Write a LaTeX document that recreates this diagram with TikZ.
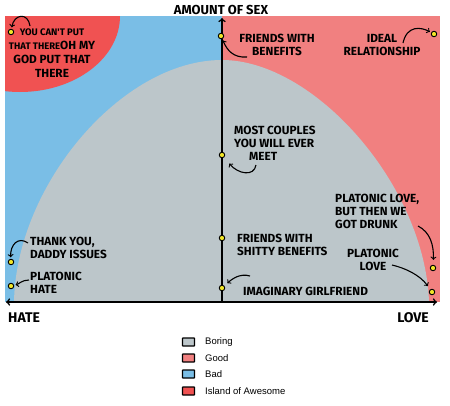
\documentclass[tikz,border=0pt]{standalone}
\usepackage{fontspec}
\setmainfont{Liberation Sans}
\newfontfamily\handfont{Fira Sans}
\definecolor{boring}{RGB}{188,198,202}
\definecolor{good}{RGB}{241,128,128}
\definecolor{bad}{RGB}{122,190,230}
\definecolor{awesome}{RGB}{240,82,82}
\definecolor{dotyellow}{RGB}{242,230,40}

\begin{document}
\begin{tikzpicture}[x=1pt,y=-1pt,
  dot/.style={circle,draw=black,fill=dotyellow,line width=0.9pt,inner sep=0pt,minimum size=5.5pt},
  hand/.style={font=\handfont\bfseries\fontsize{11.8}{13}\selectfont,inner sep=0pt},
  axislabel/.style={hand,font=\handfont\bfseries\fontsize{14}{16}\selectfont},
  pointer/.style={->,line width=1.1pt,shorten >=1.5pt},
  axis/.style={line width=1.6pt},
  legbox/.style={draw=black,line width=1.3pt,rounded corners=0.5pt,minimum width=12pt,minimum height=8pt,inner sep=0pt},
  legtext/.style={font=\fontsize{9.5}{11}\selectfont,anchor=west,inner sep=0pt}]
\useasboundingbox (0,0) rectangle (450,405);
% the four regions
\fill[bad] (5,16) rectangle (222,302);
\fill[good] (222,16) rectangle (440,302);
\begin{scope}
\clip (5,16) rectangle (440,302);
\fill[awesome] (20,16) ellipse [x radius=100, y radius=76];
\end{scope}
\fill[boring] (14,302) .. controls (16,185) and (122,60) .. (222,60)
  .. controls (314,60) and (425,185) .. (429,302) -- cycle;

% axes
\coordinate (origin) at (222,302);
\coordinate (sextop) at (222,18);
\coordinate (hateend) at (6,302);
\coordinate (loveend) at (437,302);
\draw[axis,->] (origin) -- (sextop);
\draw[axis,<->] (hateend) -- (loveend);
\node[axislabel,font=\handfont\bfseries\fontsize{13}{15}\selectfont] (sexlabel) at (221,10) {AMOUNT OF SEX};
\node[axislabel,anchor=west] (hatelabel) at (8,318) {HATE};
\node[axislabel,anchor=east] (lovelabel) at (429,318) {LOVE};

% points
\node[dot] (awesomedot) at (11,32) {};
\node[dot] (fwbdot) at (221,36) {};
\node[dot] (idealdot) at (434,34) {};
\node[dot] (couplesdot) at (222,155) {};
\node[dot] (shittydot) at (222,238) {};
\node[dot] (imagdot) at (222,288) {};
\node[dot] (drunkdot) at (433,268) {};
\node[dot] (platlovedot) at (432,292) {};
\node[dot] (daddydot) at (11,262) {};
\node[dot] (platedot) at (11,286) {};

% labels
\node[hand,align=center,font=\handfont\bfseries\fontsize{11.8}{14}\selectfont] (awesometext) at (52,53)
  {{\fontsize{9.5}{10}\selectfont YOU CAN'T PUT}\\{\fontsize{9.5}{10}\selectfont THAT THERE}OH MY\\GOD PUT THAT\\THERE};
\node[hand,align=center] (fwbtext) at (277,45) {FRIENDS WITH\\BENEFITS};
\node[hand,align=center] (idealtext) at (382,45) {IDEAL\\RELATIONSHIP};
\node[hand,align=left,anchor=west] (couplestext) at (234,143) {MOST COUPLES\\YOU WILL EVER\\\hspace*{15pt}MEET};
\node[hand,align=left,anchor=west] (shittytext) at (237,245) {FRIENDS WITH\\SHITTY BENEFITS};
\node[hand,anchor=west] (imagtext) at (243,291) {IMAGINARY GIRLFRIEND};
\node[hand,align=left,anchor=west] (drunktext) at (335,211) {PLATONIC LOVE,\\BUT THEN WE\\GOT DRUNK};
\node[hand,align=center] (platlovetext) at (373,260) {PLATONIC\\LOVE};
\node[hand,align=left,anchor=west] (daddytext) at (30,248) {THANK YOU,\\DADDY ISSUES};
\node[hand,align=left,anchor=west] (platetext) at (30,283) {PLATONIC\\HATE};

% pointers
\coordinate (awesometail) at (30,26);
\coordinate (fwbtail) at (247,57);
\coordinate (idealtail) at (403,43);
\coordinate (couplestail) at (256,165);
\coordinate (imagtail) at (250,276);
\coordinate (drunktail) at (418,226);
\coordinate (platlovetail) at (392,265);
\coordinate (daddytail) at (28,243);
\coordinate (platetail) at (29,280);
\draw[pointer] (awesometail) .. controls (28,12) and (14,14) .. (awesomedot);
\draw[pointer] (fwbtail) .. controls (233,58) and (227,50) .. (fwbdot);
\draw[pointer] (idealtail) .. controls (407,25) and (421,27) .. (idealdot);
\draw[pointer,shorten >=8pt] (couplestail) .. controls (254,177) and (238,174) .. (couplesdot);
\draw[pointer,shorten >=4pt] (imagtail) .. controls (240,273) and (232,279) .. (imagdot);
\draw[pointer,shorten >=5pt] (drunktail) .. controls (430,232) and (434,245) .. (drunkdot);
\draw[pointer,shorten >=4pt] (platlovetail) .. controls (405,268) and (420,275) .. (platlovedot);
\draw[pointer] (daddytail) .. controls (18,236) and (10,245) .. (daddydot);
\draw[pointer] (platetail) .. controls (22,280) and (19,284) .. (platedot);

% legend
\node[legbox,fill=boring] (borbox) at (188.5,342) {};
\node[legbox,fill=good] (goodbox) at (188.5,358) {};
\node[legbox,fill=bad] (badbox) at (188.5,374) {};
\node[legbox,fill=awesome] (awebox) at (188.5,391) {};
\node[legtext] (bortext) at (205,342) {Boring};
\node[legtext] (goodtext) at (205,358) {Good};
\node[legtext] (badtext) at (205,374) {Bad};
\node[legtext] (awetext) at (205,391) {Island of Awesome};
\end{tikzpicture}
\end{document}
